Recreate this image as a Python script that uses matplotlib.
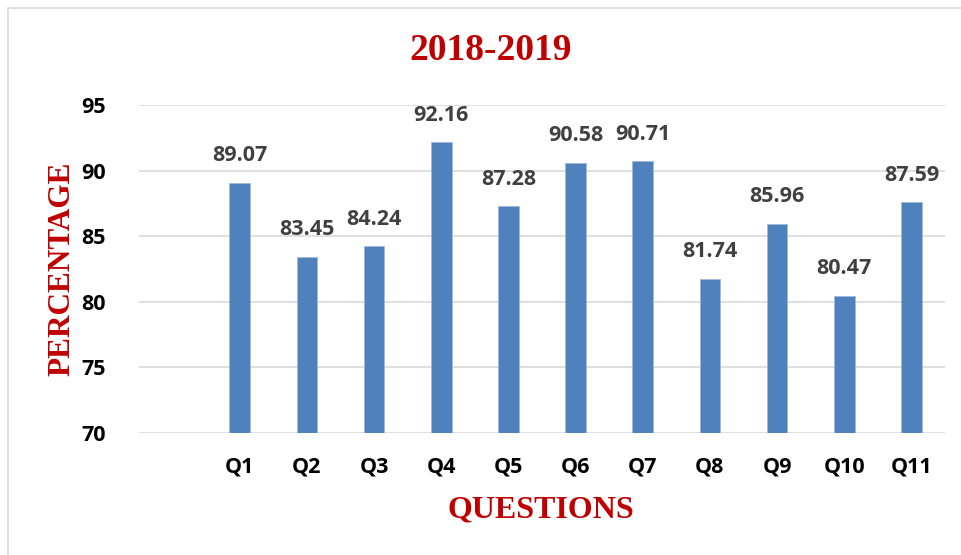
import matplotlib.pyplot as plt
from matplotlib.patches import Rectangle

# данные
questions = ['Q1', 'Q2', 'Q3', 'Q4', 'Q5', 'Q6', 'Q7', 'Q8', 'Q9', 'Q10', 'Q11']
percentage = [89.07, 83.45, 84.24, 92.16, 87.28, 90.58, 90.71, 81.74, 85.96, 80.47, 87.59]
y_ticks = [70, 75, 80, 85, 90, 95]

red = '#C00000'
sans = ['Open Sans', 'DejaVu Sans']
serif = ['Liberation Serif', 'DejaVu Serif']

fig = plt.figure(figsize=(9.61, 5.55), dpi=100)
fig.patches.append(Rectangle((8 / 961, -0.1), 1.2, 1 - 8 / 555 + 0.1, transform=fig.transFigure,
                             fill=False, edgecolor='#d9d9d9', linewidth=1.2))

ax = fig.add_axes([139 / 961, 1 - 433 / 555, (945 - 139) / 961, (433 - 105) / 555])
x = list(range(len(questions)))
bars = ax.bar(x, percentage, width=0.31, bottom=0, color='#4F81BD', edgecolor='#9fb9dc', linewidth=0.6, zorder=3)

# подписи значений
for xi, v in zip(x, percentage):
    ax.annotate(f'{v:.2f}', (xi, v), xytext=(0, 12), textcoords='offset points',
                ha='center', va='bottom', fontsize=15.5, fontweight='bold', color='#404040', family=sans)

ax.set_xlim(-1.5, len(questions) - 0.5)
ax.set_ylim(70, 95)
ax.set_yticks(y_ticks)
ax.set_xticks(x)
ax.set_xticklabels(questions)
ax.grid(axis='y', color='#d9d9d9', linewidth=1.2, zorder=0)
for s in ax.spines.values():
    s.set_visible(False)
ax.tick_params(length=0, labelsize=15.5, labelcolor='black')
for lbl in ax.get_xticklabels() + ax.get_yticklabels():
    lbl.set_fontweight('bold')
    lbl.set_family(sans)
ax.tick_params(axis='y', pad=24)
ax.tick_params(axis='x', pad=17)

fig.text(491 / 961, 1 - 50 / 555, '2018-2019', ha='center', va='center', fontsize=27,
         fontweight='bold', color=red, family=serif)
fig.text(62 / 961, 1 - 269 / 555, 'PERCENTAGE', ha='center', va='center', rotation=90, fontsize=22.5,
         fontweight='bold', color=red, family=serif)
fig.text(541 / 961, 1 - 510 / 555, 'QUESTIONS', ha='center', va='center', fontsize=23,
         fontweight='bold', color=red, family=serif)

fig.savefig('out.png', dpi=100)
